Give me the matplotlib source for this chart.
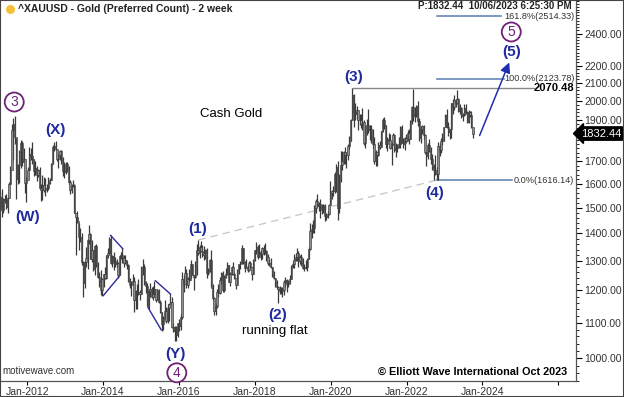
import matplotlib
matplotlib.use("Agg")
import matplotlib.pyplot as plt
import matplotlib.dates as mdates
import matplotlib.transforms as mtransforms
from matplotlib.patches import Rectangle
import numpy as np
import pandas as pd

plt.rcParams['font.family'] = ['Liberation Sans', 'DejaVu Sans']

# 2-week bars of spot gold, Apr 2011 - Oct 2023
start_date = '2011-04-18'
highs = [1565, 1577, 1540, 1553, 1556, 1545, 1610, 1680, 1878, 1913, 1920, 1810, 1690, 1755, 1802, 1795, 1762, 1710, 1628,
         1675, 1765, 1764, 1792, 1710, 1700, 1680, 1666, 1675, 1600, 1640, 1630, 1625, 1600, 1630, 1625, 1692, 1776, 1790, 1796, 1755, 1735, 1755, 1755, 1722, 1695,
         1695, 1696, 1680, 1615, 1600, 1616, 1600, 1480, 1487, 1440, 1420, 1400, 1300, 1300, 1348, 1380, 1433, 1400, 1375, 1340, 1355, 1362, 1295, 1260, 1268, 1240,
         1256, 1280, 1320, 1345, 1385, 1392, 1322, 1331, 1315, 1305, 1295, 1322, 1332, 1346, 1320, 1322, 1300, 1290, 1240, 1230, 1255, 1245, 1200, 1220, 1238, 1200,
         1282, 1307, 1290, 1230, 1225, 1205, 1224, 1210, 1215, 1232, 1200, 1205, 1205, 1170, 1132, 1120, 1170, 1147, 1157, 1160, 1191, 1180, 1100, 1090, 1090, 1100,
         1110, 1125, 1263, 1250, 1282, 1270, 1245, 1270, 1304, 1290, 1250, 1300, 1362, 1375, 1355, 1370, 1355, 1352, 1343, 1345, 1275, 1308, 1338, 1220, 1180, 1160,
         1205, 1220, 1245, 1260, 1264, 1250, 1275, 1296, 1285, 1260, 1283, 1296, 1260, 1235, 1270, 1290, 1300, 1357, 1345, 1300, 1306, 1285, 1300, 1300, 1280, 1305,
         1338, 1366, 1355, 1362, 1340, 1350, 1355, 1365, 1340, 1325, 1307, 1310, 1280, 1265, 1240, 1235, 1215, 1215, 1212, 1210, 1233, 1243, 1237, 1235, 1250, 1285,
         1300, 1325, 1327, 1346, 1335, 1320, 1325, 1310, 1290, 1304, 1310, 1348, 1439, 1437, 1453, 1510, 1535, 1557, 1525, 1535, 1517, 1516, 1515, 1480, 1485, 1515,
         1611, 1575, 1590, 1650, 1689, 1703, 1645, 1747, 1747, 1750, 1765, 1745, 1780, 1818, 1905, 2070.48, 2040, 1990, 1973, 1950, 1933, 1932, 1965, 1900, 1875, 1907, 1959,
         1875, 1875, 1855, 1815, 1755, 1745, 1790, 1797, 1845, 1913, 1916, 1877, 1815, 1834, 1832, 1790, 1834, 1830, 1787, 1782, 1814, 1870, 1877, 1810, 1815, 1832,
         1848, 1853, 1902, 1974, 2066, 1966, 1980, 1998, 1910, 1869, 1874, 1875, 1830, 1745, 1788, 1807, 1765, 1735, 1688, 1730, 1675, 1790, 1786, 1810, 1833, 1865,
         1930, 1960, 1890, 1857, 1990, 2010, 2032, 2010, 2060, 2015, 1985, 1970, 1935, 1985, 1987, 1945, 1950, 1945, 1947, 1850]
lows = [1488, 1462, 1478, 1520, 1496, 1478, 1540, 1600, 1680, 1705, 1780, 1535, 1600, 1605, 1670, 1680, 1700, 1562, 1523,
        1620, 1660, 1705, 1688, 1632, 1640, 1612, 1628, 1578, 1527, 1530, 1563, 1550, 1565, 1575, 1598, 1615, 1690, 1750, 1755, 1700, 1672, 1705, 1690, 1635, 1626,
        1645, 1653, 1600, 1555, 1562, 1588, 1477, 1321, 1440, 1338, 1368, 1285, 1180, 1208, 1280, 1270, 1360, 1306, 1295, 1265, 1251, 1280, 1240, 1211, 1186, 1182,
        1211, 1238, 1238, 1310, 1325, 1290, 1277, 1268, 1280, 1280, 1240, 1250, 1308, 1292, 1280, 1288, 1273, 1228, 1207, 1183, 1220, 1131, 1140, 1142, 1186, 1170,
        1190, 1250, 1217, 1191, 1150, 1142, 1178, 1175, 1170, 1180, 1162, 1170, 1160, 1130, 1077, 1080, 1110, 1098, 1100, 1105, 1160, 1085, 1073, 1046, 1046, 1058,
        1075, 1080, 1110, 1195, 1230, 1208, 1208, 1227, 1240, 1250, 1200, 1240, 1250, 1320, 1310, 1330, 1315, 1302, 1307, 1241, 1250, 1262, 1210, 1171, 1122, 1124,
        1146, 1180, 1190, 1220, 1195, 1195, 1240, 1250, 1227, 1214, 1250, 1250, 1237, 1204, 1230, 1255, 1270, 1290, 1290, 1260, 1277, 1263, 1265, 1275, 1236, 1255,
        1300, 1325, 1305, 1315, 1303, 1305, 1320, 1325, 1301, 1285, 1282, 1275, 1245, 1237, 1211, 1204, 1160, 1190, 1190, 1180, 1185, 1211, 1196, 1211, 1225, 1238,
        1275, 1276, 1300, 1300, 1280, 1290, 1281, 1270, 1266, 1272, 1266, 1305, 1340, 1382, 1400, 1400, 1480, 1505, 1485, 1459, 1475, 1480, 1446, 1452, 1458, 1472,
        1515, 1535, 1548, 1560, 1563, 1451, 1480, 1610, 1660, 1690, 1690, 1670, 1705, 1757, 1795, 1900, 1863, 1902, 1906, 1848, 1873, 1860, 1850, 1775, 1764, 1825, 1835,
        1802, 1785, 1760, 1687, 1677, 1677, 1723, 1757, 1767, 1840, 1855, 1761, 1750, 1795, 1758, 1682, 1775, 1745, 1721, 1745, 1760, 1760, 1785, 1762, 1753, 1785,
        1800, 1780, 1805, 1878, 1895, 1890, 1915, 1872, 1797, 1787, 1828, 1805, 1732, 1680, 1712, 1745, 1688, 1660, 1615, 1640, 1618, 1616, 1727, 1740, 1775, 1795,
        1865, 1860, 1820, 1804, 1810, 1934, 1950, 1969, 1985, 1940, 1932, 1910, 1893, 1920, 1930, 1885, 1885, 1915, 1860, 1810]
closes = [1545, 1492, 1536, 1530, 1502, 1541, 1601, 1663, 1852, 1880, 1814, 1623, 1683, 1745, 1788, 1696, 1711, 1605, 1616,
          1663, 1736, 1725, 1710, 1656, 1668, 1640, 1663, 1580, 1572, 1595, 1572, 1580, 1584, 1604, 1616, 1690, 1768, 1772, 1757, 1712, 1730, 1750, 1705, 1658, 1650,
          1686, 1668, 1610, 1572, 1592, 1596, 1480, 1463, 1446, 1386, 1384, 1296, 1223, 1296, 1311, 1376, 1396, 1308, 1337, 1272, 1352, 1286, 1244, 1230, 1200, 1237,
          1254, 1240, 1319, 1326, 1379, 1294, 1318, 1301, 1290, 1292, 1252, 1316, 1320, 1310, 1293, 1304, 1287, 1230, 1217, 1222, 1231, 1169, 1197, 1194, 1196, 1189,
          1277, 1279, 1227, 1213, 1152, 1199, 1205, 1178, 1188, 1205, 1168, 1201, 1163, 1132, 1095, 1114, 1134, 1104, 1146, 1156, 1162, 1088, 1077, 1086, 1065, 1098,
          1089, 1117, 1238, 1221, 1259, 1217, 1239, 1234, 1290, 1252, 1243, 1282, 1340, 1328, 1351, 1336, 1322, 1328, 1338, 1257, 1266, 1304, 1208, 1177, 1136, 1152,
          1196, 1191, 1234, 1257, 1203, 1245, 1254, 1284, 1228, 1253, 1280, 1254, 1242, 1217, 1268, 1290, 1291, 1346, 1297, 1275, 1280, 1269, 1293, 1280, 1255, 1302,
          1338, 1350, 1315, 1330, 1323, 1347, 1332, 1336, 1314, 1291, 1293, 1278, 1252, 1241, 1223, 1212, 1206, 1198, 1199, 1203, 1228, 1233, 1222, 1222, 1239, 1281,
          1290, 1303, 1314, 1329, 1298, 1313, 1292, 1276, 1280, 1277, 1305, 1341, 1409, 1415, 1419, 1497, 1527, 1507, 1516, 1505, 1490, 1511, 1468, 1463, 1476, 1511,
          1562, 1571, 1570, 1643, 1674, 1498, 1620, 1683, 1700, 1744, 1730, 1730, 1771, 1798, 1902, 2035, 1940, 1933, 1950, 1900, 1899, 1878, 1889, 1788, 1840, 1877, 1850,
          1855, 1813, 1783, 1700, 1745, 1728, 1777, 1768, 1843, 1903, 1877, 1782, 1808, 1802, 1763, 1781, 1827, 1754, 1761, 1768, 1783, 1865, 1788, 1783, 1811, 1797,
          1835, 1808, 1898, 1967, 1921, 1924, 1975, 1897, 1811, 1853, 1871, 1826, 1742, 1727, 1775, 1747, 1712, 1675, 1661, 1644, 1644, 1771, 1754, 1797, 1798, 1866,
          1926, 1865, 1842, 1856, 1989, 1969, 2004, 1990, 2011, 1946, 1961, 1921, 1925, 1962, 1943, 1889, 1940, 1924, 1866, 1832.44]
first_open = 1500

# wave labels: (text, date, price)
wave_labels = [('(W)', '2012-01-01', 1464), ('(X)', '2012-09-28', 1850), ('(Y)', '2015-12-01', 1012),
               ('(1)', '2016-07-01', 1417), ('(2)', '2018-08-08', 1124), ('(3)', '2020-08-08', 2135),
               ('(4)', '2022-09-28', 1561), ('(5)', '2024-10-05', 2283)]
circle_labels = [('3', '2011-08-30', 1995), ('4', '2015-12-12', 961), ('5', '2024-10-05', 2410)]

fib_levels = [('161.8%(2514.33)', 2514.33, '2024-07-01'),
              ('100.0%(2123.78)', 2123.78, '2024-07-25'),
              ('0.0%(1616.14)', 1616.14, '2024-10-10')]
fib_start = '2022-10-20'
wave3_high = 2070.48
wave3_date = '2020-08-07'
wave1_point = ('2016-07-06', 1375)
wave4_point = ('2022-10-20', 1616.14)
wedge_lines = [[('2014-01-05', 1184), ('2014-06-05', 1246)],
               [('2014-03-15', 1392), ('2014-07-10', 1343)],
               [('2015-03-10', 1146), ('2015-07-15', 1079)],
               [('2015-05-20', 1232), ('2015-10-10', 1189)]]
arrow_from = ('2023-11-25', 1810)
arrow_to = ('2024-09-25', 2235)
last_price = 1832.44

y_ticks = [1000, 1100, 1200, 1300, 1400, 1500, 1600, 1700, 1900, 2000, 2100, 2200, 2400]
x_tick_years = [2012, 2014, 2016, 2018, 2020, 2022, 2024, 2026]

dates = pd.date_range(start_date, periods=len(closes), freq='14D')
assert len(highs) == len(lows) == len(closes)
opens = [first_open] + closes[:-1]

blue = '#1f2a9c'
purple = '#6e2275'
fibc = '#5a7db0'

fig = plt.figure(figsize=(6.24, 3.97), dpi=100)
ax = fig.add_axes([0.0, 16 / 397, 576 / 624, 381 / 397])
ax.set_yscale('log')
ax.set_ylim(940.6, 2627)
ax.set_xlim(pd.Timestamp('2011-04-15'), pd.Timestamp('2026-06-20'))

# price bars
xd = mdates.date2num(dates)
ax.vlines(xd, lows, highs, color='#3a3a3a', lw=0.9, zorder=2)
bot = np.minimum(opens, closes)
top = np.maximum(opens, closes)
ax.bar(xd, top - bot, bottom=bot, width=12, color='#8e8e8e', edgecolor='#2e2e2e', lw=0.4, zorder=3)

d = lambda s: mdates.date2num(pd.Timestamp(s))

# dashed trend line (1)-(4)
ax.plot([d(wave1_point[0]), d(wave4_point[0])], [wave1_point[1], wave4_point[1]],
        color='#c4c4c4', lw=0.9, ls=(0, (6, 4)), zorder=1)

# wedges
for seg in wedge_lines:
    ax.plot([d(p[0]) for p in seg], [p[1] for p in seg], color='#2b2b9b', lw=1, zorder=4)

# horizontal wave (3) high
ax.plot([d(wave3_date), d('2025-05-15')], [wave3_high, wave3_high], color='#888888', lw=1, zorder=1)
tr = mtransforms.blended_transform_factory(ax.transAxes, ax.transData)
ax.text(0.997, wave3_high, f'{wave3_high:.2f}', transform=tr, ha='right', va='center',
        fontsize=8, fontweight='bold', color='black')

# fib lines
for label, lvl, end in fib_levels:
    ax.plot([d(fib_start), d(end)], [lvl, lvl], color=fibc, lw=1.1, zorder=1)
    ax.text(0.997, lvl, label, transform=tr, ha='right', va='center', fontsize=6.6, color='#333333')

# projection arrow
ax.annotate('', xy=(d(arrow_to[0]), arrow_to[1]), xytext=(d(arrow_from[0]), arrow_from[1]),
            arrowprops=dict(arrowstyle='-|>,head_length=0.6,head_width=0.3', color='#1f2fb0', lw=1.1))

for txt, dt, p in wave_labels:
    ax.text(d(dt), p, txt, ha='center', va='center', fontsize=11, fontweight='bold', color=blue, zorder=6)
for txt, dt, p in circle_labels:
    ax.text(d(dt), p, txt, ha='center', va='center', fontsize=10, color=purple, zorder=6,
            bbox=dict(boxstyle='circle,pad=0.18', fc='white', ec=purple, lw=1.3))

ax.text(d('2017-05-20'), 1932, 'Cash Gold', ha='center', va='center', fontsize=9.5, color='black')
ax.text(d('2018-07-15'), 1076, 'running flat', ha='center', va='center', fontsize=9.5, color='black')

ax.text(0.005, 0.025, 'motivewave.com', transform=ax.transAxes, ha='left', va='center', fontsize=7, color='#333333')
ax.text(0.985, 0.025, '\u00a9 Elliott Wave International Oct 2023', transform=ax.transAxes,
        ha='right', va='center', fontsize=7.8, fontweight='bold', color='black')

# title & status
ax.scatter([0.017], [0.977], s=30, color='#f3c138', transform=ax.transAxes, zorder=6, clip_on=False)
ax.text(0.032, 0.977, '^XAUUSD - Gold (Preferred Count) - 2 week', transform=ax.transAxes,
        ha='left', va='center', fontsize=7.5, fontweight='bold', color='#222222')
ax.text(0.993, 0.985, 'P:1832.44  10/06/2023 6:25:30 PM', transform=ax.transAxes,
        ha='right', va='center', fontsize=7, fontweight='bold', color='#222222')

# axes styling
ax.yaxis.tick_right()
ax.set_yticks(y_ticks)
ax.set_yticklabels([f'{t:.2f}' for t in y_ticks])
ax.set_yticks(np.arange(940, 2640, 20), minor=True)
ax.yaxis.set_minor_formatter(matplotlib.ticker.NullFormatter())
ax.tick_params(axis='y', which='major', length=4, width=0.8, labelsize=7.5, labelcolor='#333333', pad=2)
ax.tick_params(axis='y', which='minor', length=2, width=0.6)
ax.set_xticks([pd.Timestamp(f'{y}-01-01') for y in x_tick_years])
ax.set_xticklabels([f'Jan-{y}' if y < 2026 else '' for y in x_tick_years])
ax.tick_params(axis='x', length=3, width=0.8, labelsize=7.5, labelcolor='#333333', pad=1)
for s in ['left', 'top']:
    ax.spines[s].set_visible(False)
for s in ['right', 'bottom']:
    ax.spines[s].set_color('#555555')
    ax.spines[s].set_linewidth(0.9)

# last price tag on the right axis
ax.plot([1.0, 1.08], [last_price * 0.9965, last_price * 0.9965], transform=tr, color='#e8a0a0',
        lw=1.2, clip_on=False, zorder=5)
ax.text(1.008, last_price, f'{last_price:.2f}', transform=tr, ha='left', va='center', fontsize=8,
        color='white', zorder=7, clip_on=False,
        bbox=dict(boxstyle='larrow,pad=0.15', fc='black', ec='black'))

fig.patches.append(Rectangle((0, 0), 1, 1, transform=fig.transFigure, fill=False, ec='#444444', lw=1.5))

fig.savefig('out.png', dpi=100)
